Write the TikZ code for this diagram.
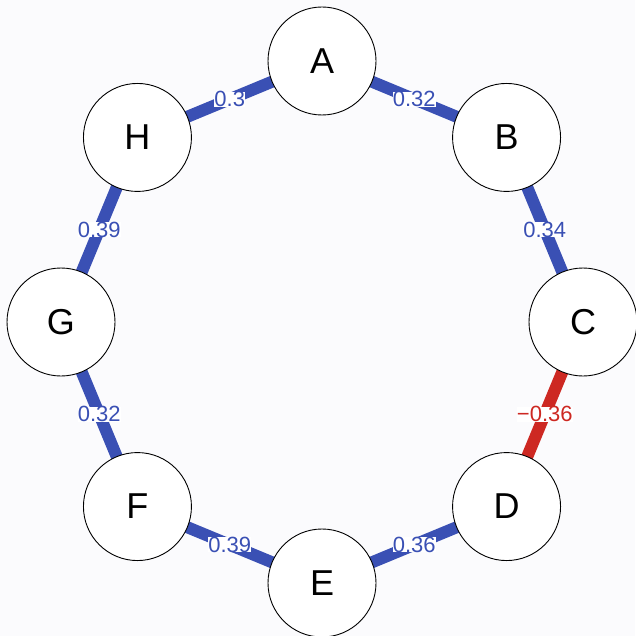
\documentclass[tikz,border=0pt]{standalone}
\usepackage{fontspec}
\setmainfont{Liberation Sans}
\definecolor{posedge}{RGB}{58,80,180}
\definecolor{negedge}{RGB}{205,40,34}
\definecolor{paper}{RGB}{251,251,253}
\begin{document}
\begin{tikzpicture}[x=1pt,y=-1pt,
  vertex/.style={circle,draw=black,line width=0.9pt,fill=white,minimum size=108pt,inner sep=0pt,
    font=\fontsize{36}{36}\selectfont},
  link/.style={line width=12pt},
  wlabel/.style={fill=white,inner sep=0pt,text height=15pt,text depth=0pt,
    font=\fontsize{22}{22}\selectfont}]
  % canvas
  \fill[paper] (0,0) rectangle (635,636);
  \useasboundingbox (0,0) rectangle (635,636);
  % vertices on a ring of radius 261 around (322,322)
  \foreach \n/\ang in {A/90,B/45,C/0,D/-45,E/-90,F/-135,G/180,H/135}{
    \coordinate (p\n) at ({322+261*cos(\ang)},{322-261*sin(\ang)});
  }
  % edges
  \draw[link,posedge] (pA) -- (pB) node[midway,wlabel,text=posedge]{0.32};
  \draw[link,posedge] (pB) -- (pC) node[midway,wlabel,text=posedge]{0.34};
  \draw[link,negedge] (pC) -- (pD) node[midway,wlabel,text=negedge]{−0.36};
  \draw[link,posedge] (pD) -- (pE) node[midway,wlabel,text=posedge]{0.36};
  \draw[link,posedge] (pE) -- (pF) node[midway,wlabel,text=posedge]{0.39};
  \draw[link,posedge] (pF) -- (pG) node[midway,wlabel,text=posedge]{0.32};
  \draw[link,posedge] (pG) -- (pH) node[midway,wlabel,text=posedge]{0.39};
  \draw[link,posedge] (pH) -- (pA) node[midway,wlabel,text=posedge]{0.3};
  % vertex discs on top
  \foreach \n in {A,B,C,D,E,F,G,H}{
    \node[vertex] (\n) at (p\n) {\n};
  }
\end{tikzpicture}
\end{document}
